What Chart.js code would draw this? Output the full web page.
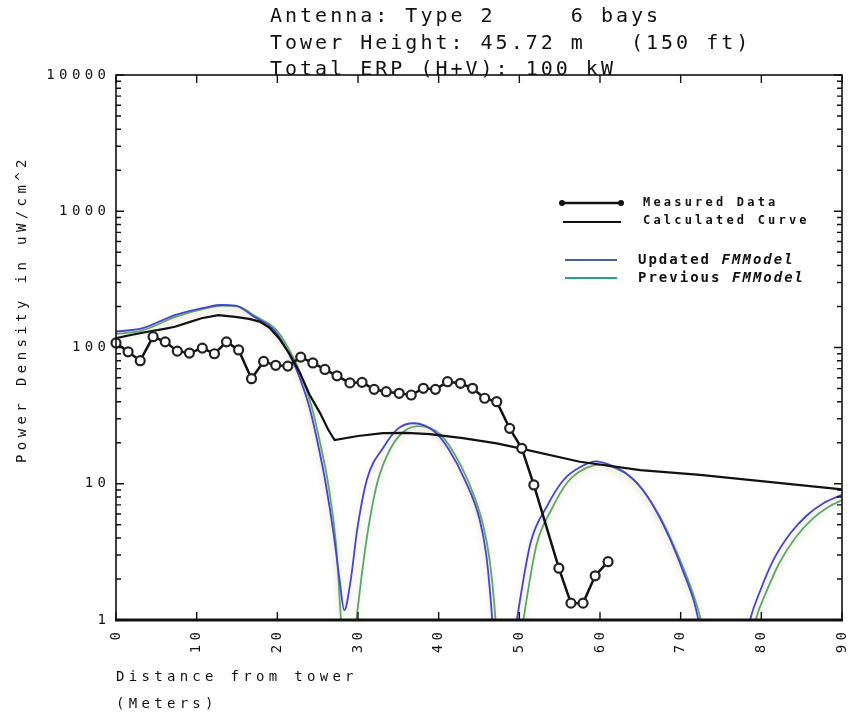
<!DOCTYPE html>
<html>
<head>
<meta charset="utf-8">
<script src="https://cdn.jsdelivr.net/npm/chart.js@4.4.0/dist/chart.umd.min.js"></script>
<style>
  html, body { margin: 0; padding: 0; background: #fff; }
  #wrap { width: 852px; height: 717px; }
</style>
</head>
<body>
<div id="wrap"><canvas id="fmChart" width="852" height="717"></canvas></div>
<script>
// Measured data (distance m, power density uW/cm^2)
const measuredX = [0, 1.5, 3.0, 4.6, 6.1, 7.6, 9.1, 10.7, 12.2, 13.7, 15.2, 16.8, 18.3, 19.8, 21.3, 22.9, 24.4, 25.9, 27.4, 29.0,
                   30.5, 32.0, 33.5, 35.1, 36.6, 38.1, 39.6, 41.1, 42.7, 44.2, 45.7, 47.2, 48.8, 50.3, 51.8, 54.9, 56.4, 57.9, 59.4, 61.0];
const measuredY = [108, 93, 80, 120, 110, 94, 91, 99, 90, 110, 96, 59, 79, 74, 73, 85, 77, 69, 62, 55,
                   55.5, 49.3, 47.4, 46.1, 44.8, 50.2, 49.3, 56.1, 54.6, 50.2, 42.4, 40.0, 25.5, 18.2, 9.8, 2.4, 1.33, 1.33, 2.11, 2.68];

// Calculated curve
const calcX = [0, 2.0, 4.1, 6.0, 7.3, 9.0, 10.6, 12.7, 14.8, 16.5, 17.8, 19.0, 20.2, 21.5, 22.8, 24.0, 25.3, 26.3, 27.1,
               30.0, 33.1, 36.0, 38.9, 43.0, 47.2, 50.1, 57.5, 65.0, 72.4, 90];
const calcY = [117, 124, 131, 137, 142, 153, 164, 173, 168, 162, 155, 140, 117, 90, 65, 45, 33, 25, 20.9,
               22.4, 23.5, 23.6, 23.1, 21.6, 19.8, 18.2, 14.5, 12.6, 11.6, 9.1];

// Updated FMModel
const updatedX = [0, 3.2, 7.3, 11.5, 13.0, 14.8, 17.1, 19.6, 22.0, 23.0, 24.0, 25.0, 26.0, 27.0, 27.7, 28.3, 29.1, 29.9, 31.1, 33.2, 35.0,
                  36.9, 39.5, 41.3, 43.3, 45.1, 45.9, 46.5, 47.0, 48.1, 49.7, 51.4, 53.4, 55.5, 57.6, 59.5, 61.3, 62.9, 65.0, 67.1, 68.7,
                  70.4, 71.6, 72.2, 75.4, 78.6, 79.9, 81.5, 83.6, 85.7, 87.7, 90];
const updatedY = [131, 138, 173, 199, 205, 203, 168, 134, 77, 55, 36, 20, 10, 4.2, 2.0, 1.18, 1.97, 4.6, 10.7, 18.7, 25.5,
                  27.8, 24.1, 17.7, 10.5, 5.4, 3.0, 1.3, 0.5, 0.2, 1.0, 3.7, 6.8, 10.7, 13.3, 14.6, 13.7, 12.3, 9.5, 6.1, 3.9,
                  2.2, 1.4, 1.0, 0.1, 1.0, 1.66, 2.76, 4.33, 5.9, 7.2, 8.3];

// Previous FMModel
const previousX = [0, 3.2, 7.3, 11.5, 13.3, 15.1, 17.4, 19.9, 22.3, 23.3, 24.3, 25.3, 26.3, 27.3, 27.9, 28.8, 29.8, 30.4, 31.2, 32.4, 34.0, 35.8,
                   37.6, 40.1, 41.8, 43.7, 45.5, 46.3, 46.9, 47.4, 48.7, 50.5, 52.1, 54.0, 56.0, 58.0, 60.2, 62.5, 63.5, 65.3, 67.3, 68.9,
                   70.6, 71.8, 72.5, 75.9, 79.3, 80.6, 82.2, 84.2, 86.3, 88.2, 90];
const previousY = [126, 133, 167, 196, 203, 200, 168, 134, 77, 55, 36, 20, 10, 3.5, 1.0, 0.3, 1.0, 2.0, 4.4, 10.2, 18.0, 24.5,
                   26.5, 23.3, 17.2, 10.3, 5.0, 2.8, 1.3, 0.5, 0.2, 1.0, 3.5, 6.5, 10.3, 12.8, 13.8, 12.5, 11.6, 9.0, 5.9, 3.8,
                   2.2, 1.4, 1.0, 0.1, 1.0, 1.6, 2.6, 4.0, 5.5, 6.7, 7.6];

// Axis ticks and labels
const yDecades = [1, 10, 100, 1000, 10000];
const yTickLabels = ['1', '10', '100', '1000', '10000'];
const xTicks = [0, 10, 20, 30, 40, 50, 60, 70, 80, 90];
const xTickLabels = ['0', '10', '20', '30', '40', '50', '60', '70', '80', '90'];

const titleLines = ['Antenna: Type 2     6 bays', 'Tower Height: 45.72 m   (150 ft)', 'Total ERP (H+V): 100 kW'];

const MONO = '"DejaVu Sans Mono", "Liberation Mono", monospace';
const BLUE = '#4444cc';
const GREEN = '#5aa66a';

function toPoints(xs, ys) {
    return xs.map((x, i) => ({ x: x, y: ys[i] }));
}

function spacedText(ctx, s, x, y, font, spacing, align) {
    ctx.font = font;
    ctx.letterSpacing = spacing + 'px';
    ctx.textAlign = align || 'left';
    // trailing letter spacing shifts right-aligned text, compensate
    ctx.fillText(s, align === 'right' ? x + spacing : x, y);
}

// Shadowy halo behind the model curves, like on the scan
const haloPlugin = {
    id: 'halo',
    beforeDatasetDraw(chart, args) {
        if (args.index >= 2) {
            chart.ctx.save();
            chart.ctx.shadowColor = 'rgba(190, 180, 140, 0.45)';
            chart.ctx.shadowBlur = 6;
            chart.ctx.shadowOffsetY = 3;
        }
    },
    afterDatasetDraw(chart, args) {
        if (args.index >= 2) chart.ctx.restore();
    }
};

// Frame, inward ticks, labels, titles and legend
const framePlugin = {
    id: 'frame',
    afterDatasetsDraw(chart) {
        const ctx = chart.ctx;
        const a = chart.chartArea;
        const xs = chart.scales.x;
        const ys = chart.scales.y;
        ctx.save();
        ctx.strokeStyle = '#111';
        ctx.fillStyle = '#111';
        ctx.lineCap = 'butt';

        // box
        ctx.lineWidth = 1.6;
        ctx.strokeRect(a.left, a.top, a.right - a.left, a.bottom - a.top);
        ctx.lineWidth = 3;
        ctx.beginPath();
        ctx.moveTo(a.left - 1, a.bottom);
        ctx.lineTo(a.right + 1, a.bottom);
        ctx.stroke();

        // y ticks on both sides
        ctx.lineWidth = 1.4;
        ctx.beginPath();
        yDecades.forEach((d, i) => {
            for (let m = 1; m < 10; m++) {
                if (i === yDecades.length - 1 && m > 1) break;
                const py = ys.getPixelForValue(d * m);
                const len = m === 1 ? 8 : 5;
                ctx.moveTo(a.left, py); ctx.lineTo(a.left + len, py);
                ctx.moveTo(a.right, py); ctx.lineTo(a.right - len, py);
            }
        });
        // x ticks top and bottom
        xTicks.forEach(v => {
            const px = xs.getPixelForValue(v);
            ctx.moveTo(px, a.top); ctx.lineTo(px, a.top + 8);
            ctx.moveTo(px, a.bottom); ctx.lineTo(px, a.bottom - 8);
        });
        ctx.stroke();

        // y tick labels
        ctx.textBaseline = 'middle';
        yDecades.forEach((d, i) => {
            spacedText(ctx, yTickLabels[i], a.left - 10, ys.getPixelForValue(d), '14px ' + MONO, 4.4, 'right');
        });

        // x tick labels, rotated
        xTicks.forEach((v, i) => {
            ctx.save();
            ctx.translate(xs.getPixelForValue(v), a.bottom + 12);
            ctx.rotate(-Math.PI / 2);
            spacedText(ctx, xTickLabels[i], 0, 0, '14px ' + MONO, 4.4, 'right');
            ctx.restore();
        });

        // axis titles
        spacedText(ctx, 'Distance from tower', a.left, 677, '14px ' + MONO, 4.3, 'left');
        spacedText(ctx, '(Meters)', a.left, 704, '14px ' + MONO, 4.3, 'left');
        ctx.save();
        ctx.translate(22, 463);
        ctx.rotate(-Math.PI / 2);
        spacedText(ctx, 'Power Density in uW/cm^2', 0, 0, '14px ' + MONO, 4.4, 'left');
        ctx.restore();

        // chart title
        titleLines.forEach((line, i) => {
            spacedText(ctx, line, 270, 17 + i * 26.5, '20px ' + MONO, 3, 'left');
        });

        // legend
        ctx.lineWidth = 2.5;
        ctx.beginPath();
        ctx.moveTo(562, 203); ctx.lineTo(621, 203);
        ctx.stroke();
        [562, 621].forEach(px => {
            ctx.beginPath();
            ctx.arc(px, 203, 3, 0, Math.PI * 2);
            ctx.fill();
        });
        ctx.lineWidth = 2;
        ctx.beginPath();
        ctx.moveTo(563, 222); ctx.lineTo(621, 222);
        ctx.stroke();
        spacedText(ctx, 'Measured Data', 643, 203, 'bold 12px ' + MONO, 3.2, 'left');
        spacedText(ctx, 'Calculated Curve', 643, 221, 'bold 12px ' + MONO, 3.2, 'left');

        ctx.lineWidth = 1.8;
        ctx.strokeStyle = '#4c5f9f';
        ctx.beginPath(); ctx.moveTo(565, 260); ctx.lineTo(617, 260); ctx.stroke();
        ctx.strokeStyle = '#2e9b8b';
        ctx.beginPath(); ctx.moveTo(565, 278); ctx.lineTo(617, 278); ctx.stroke();
        const pitch = 10.45;
        spacedText(ctx, 'Updated', 638, 260, 'bold 14px ' + MONO, 2, 'left');
        spacedText(ctx, 'FMModel', 638 + 8 * pitch, 260, 'italic bold 14px ' + MONO, 2, 'left');
        spacedText(ctx, 'Previous', 638, 278, 'bold 14px ' + MONO, 2, 'left');
        spacedText(ctx, 'FMModel', 638 + 9 * pitch, 278, 'italic bold 14px ' + MONO, 2, 'left');

        ctx.restore();
    }
};

const chart = new Chart(document.getElementById('fmChart').getContext('2d'), {
    type: 'line',
    data: {
        datasets: [
            {
                label: 'Measured Data',
                data: toPoints(measuredX, measuredY),
                borderColor: '#111',
                backgroundColor: '#fff',
                borderWidth: 2.5,
                pointRadius: 4.5,
                pointBorderWidth: 2.2,
                pointBorderColor: '#222',
                pointBackgroundColor: '#fff',
                tension: 0,
                clip: 10
            },
            {
                label: 'Calculated Curve',
                data: toPoints(calcX, calcY),
                borderColor: '#111',
                borderWidth: 2.2,
                pointRadius: 0,
                tension: 0
            },
            {
                label: 'Updated FMModel',
                data: toPoints(updatedX, updatedY),
                borderColor: BLUE,
                borderWidth: 1.8,
                pointRadius: 0,
                cubicInterpolationMode: 'monotone'
            },
            {
                label: 'Previous FMModel',
                data: toPoints(previousX, previousY),
                borderColor: GREEN,
                borderWidth: 1.8,
                pointRadius: 0,
                cubicInterpolationMode: 'monotone'
            }
        ]
    },
    options: {
        responsive: false,
        animation: false,
        devicePixelRatio: 1,
        layout: {
            padding: { left: 116, right: 10, top: 75, bottom: 97 }
        },
        scales: {
            x: { type: 'linear', min: 0, max: 90, display: false },
            y: { type: 'logarithmic', min: 1, max: 10000, display: false }
        },
        plugins: {
            legend: { display: false },
            title: { display: false },
            tooltip: { enabled: false }
        }
    },
    plugins: [haloPlugin, framePlugin]
});
</script>
</body>
</html>
